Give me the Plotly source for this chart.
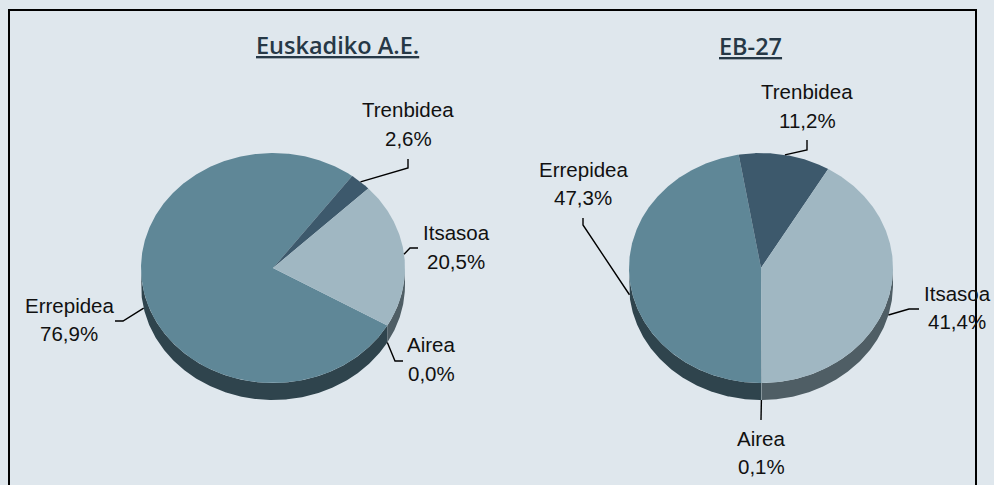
import numpy as np
import plotly.graph_objects as go

# ---------------- data ----------------
categories = ["Errepidea", "Trenbidea", "Itsasoa", "Airea"]
euskadi_values = [76.9, 2.6, 20.5, 0.0]
eb27_values = [47.3, 11.2, 41.4, 0.1]
chart_titles = ["Euskadiko A.E.", "EB-27"]

# ---------------- styles ----------------
W, H = 994, 485
BG = "#dfe7ed"
TOP_COLORS = {"Errepidea": "#5f8797", "Trenbidea": "#3d596c",
              "Itsasoa": "#a0b7c2", "Airea": "#8aa3ae"}
SIDE_COLORS = {"Errepidea": "#2f444d", "Trenbidea": "#24343f",
               "Itsasoa": "#4f5e65", "Airea": "#7a8a90"}
LABEL_FONT = dict(family="Liberation Sans, Arial, sans-serif", size=20.5, color="#111111")
TITLE_FONT = dict(family="Open Sans, sans-serif", size=23.5, color="#263846",
                  weight=600, lineposition="under")

# layout of each pie (pixel positions) and of its labels
PIES = [
    dict(values=euskadi_values, title=chart_titles[0], start=120,
         cx=273, cy=268, rx=132, ry=115, depth=17, xdomain=[0.0, 0.5],
         xa="x", ya="y", title_pos=(337, 45),
         labels={
             "Trenbidea": dict(name=(408, 110), value=(408, 138), leader=[(408, 168), (408, 159)]),
             "Itsasoa": dict(name=(456, 232), value=(456, 261), leader=[(410, 248), (418, 248)]),
             "Airea": dict(name=(431, 344), value=(431, 373), leader=[(395, 361), (403, 361)]),
             "Errepidea": dict(name=(69, 305), value=(69, 333), leader=[(123, 321), (115, 321)]),
         }),
    dict(values=eb27_values, title=chart_titles[1], start=180,
         cx=761, cy=268, rx=132, ry=115, depth=17, xdomain=[0.5, 1.0],
         xa="x2", ya="y2", title_pos=(750, 46),
         labels={
             "Trenbidea": dict(name=(807, 91), value=(807, 120), leader=[(807, 150), (807, 140)]),
             "Errepidea": dict(name=(583, 169), value=(583, 197), leader=[(583, 225), (583, 218)]),
             "Itsasoa": dict(name=(957, 293), value=(957, 321), leader=[(909, 309), (919, 309)]),
             "Airea": dict(name=(761, 438), value=(761, 466), leader=[(761, 420), (761, 420)]),
         }),
]

fig = go.Figure()
annotations = []


def arc(a0, a1, dv=0.0):
    n = max(2, int(abs(a1 - a0) / 0.5) + 2)
    t = np.radians(np.linspace(a0, a1, n))
    return np.sin(t), np.cos(t) - dv


for p in PIES:
    vals = np.array(p["values"], dtype=float)
    angles = vals / vals.sum() * 360.0
    starts = p["start"] + np.concatenate([[0], np.cumsum(angles)[:-1]])
    ends = starts + angles
    dv = p["depth"] / p["ry"]

    def to_data(px, py, p=p):
        return (px - p["cx"]) / p["rx"], (p["cy"] - py) / p["ry"]

    # sides (front half only)
    for cat, a0, a1 in zip(categories, starts, ends):
        for k in (-1, 0, 1):
            lo, hi = max(a0, 90 + 360 * k), min(a1, 270 + 360 * k)
            if hi > lo:
                xs, ys = arc(lo, hi)
                xb, yb = arc(hi, lo, dv)
                fig.add_trace(go.Scatter(
                    x=np.concatenate([xs, xb]), y=np.concatenate([ys, yb]),
                    fill="toself", fillcolor=SIDE_COLORS[cat], mode="lines",
                    line=dict(width=0, color=SIDE_COLORS[cat]),
                    xaxis=p["xa"], yaxis=p["ya"], hoverinfo="skip", showlegend=False))
    # tops
    for cat, a0, a1 in zip(categories, starts, ends):
        if a1 - a0 <= 0:
            continue
        xs, ys = arc(a0, a1)
        fig.add_trace(go.Scatter(
            x=np.concatenate([[0], xs, [0]]), y=np.concatenate([[0], ys, [0]]),
            fill="toself", fillcolor=TOP_COLORS[cat], mode="lines",
            line=dict(width=0, color=TOP_COLORS[cat]),
            xaxis=p["xa"], yaxis=p["ya"], hoverinfo="skip", showlegend=False))
    # labels + leader lines
    for cat, v, a0, a1 in zip(categories, vals, starts, ends):
        m = np.radians((a0 + a1) / 2)
        ax_, ay_ = np.sin(m), np.cos(m)
        if ay_ < 0:
            ay_ -= dv
        lab = p["labels"][cat]
        pts = [to_data(*q) for q in lab["leader"]]
        fig.add_trace(go.Scatter(
            x=[ax_] + [q[0] for q in pts], y=[ay_] + [q[1] for q in pts],
            mode="lines", line=dict(color="#000000", width=1.4),
            xaxis=p["xa"], yaxis=p["ya"], hoverinfo="skip", showlegend=False))
        for key, txt in (("name", cat), ("value", f"{v:.1f}".replace(".", ",") + "%")):
            px, py = lab[key]
            annotations.append(dict(x=px / W, y=1 - py / H, xref="paper", yref="paper",
                                    text=txt, showarrow=False, font=LABEL_FONT,
                                    xanchor="center", yanchor="middle"))
    tx, ty = p["title_pos"]
    annotations.append(dict(x=tx / W, y=1 - ty / H, xref="paper", yref="paper",
                            text=p["title"], showarrow=False, font=TITLE_FONT,
                            xanchor="center", yanchor="middle"))

layout_axes = {}
for i, p in enumerate(PIES):
    sfx = "" if i == 0 else str(i + 1)
    X0, X1 = p["xdomain"][0] * W, p["xdomain"][1] * W
    layout_axes["xaxis" + sfx] = dict(domain=p["xdomain"], visible=False, fixedrange=True,
                                      range=[(X0 - p["cx"]) / p["rx"], (X1 - p["cx"]) / p["rx"]])
    layout_axes["yaxis" + sfx] = dict(domain=[0, 1], visible=False, fixedrange=True,
                                      range=[(p["cy"] - H) / p["ry"], p["cy"] / p["ry"]])

fig.update_layout(
    width=W, height=H, margin=dict(l=0, r=0, t=0, b=0, pad=0),
    paper_bgcolor=BG, plot_bgcolor="rgba(0,0,0,0)",
    annotations=annotations,
    shapes=[dict(type="rect", xref="paper", yref="paper",
                 x0=9 / W, x1=976 / W, y0=1 - 10 / H, y1=-0.2,
                 line=dict(color="#000000", width=2), fillcolor="rgba(0,0,0,0)",
                 layer="above")],
    **layout_axes,
)

fig.write_html(
    "out.html",
    config={"displayModeBar": False},
    post_script="document.body.style.margin='0px';document.body.style.padding='0px';"
                "document.body.style.overflow='hidden';document.body.style.background='" + BG + "';",
)
